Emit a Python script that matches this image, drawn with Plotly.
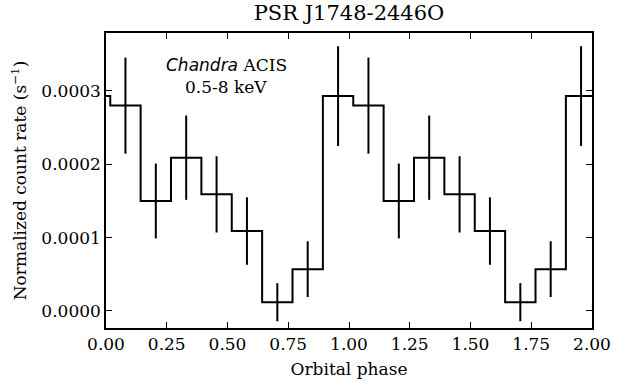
import plotly.graph_objects as go

# Bin centres (orbital phase), two cycles plus one bin on either side
phase = [-0.045, 0.080, 0.205, 0.330, 0.455, 0.580, 0.705, 0.830, 0.955,
         1.080, 1.205, 1.330, 1.455, 1.580, 1.705, 1.830, 1.955, 2.080]
# Normalized count rate (s^-1)
rate = [0.000293, 0.000280, 0.000150, 0.000209, 0.000159, 0.000109, 0.000012, 0.000057, 0.000293,
        0.000280, 0.000150, 0.000209, 0.000159, 0.000109, 0.000012, 0.000057, 0.000293, 0.000280]
# 1-sigma errors
rate_err = [0.000068, 0.0000655, 0.000051, 0.0000575, 0.000052, 0.000046, 0.000026, 0.000038, 0.000068,
            0.0000655, 0.000051, 0.0000575, 0.000052, 0.000046, 0.000026, 0.000038, 0.000068, 0.0000655]

x_ticks = [0.0, 0.25, 0.5, 0.75, 1.0, 1.25, 1.5, 1.75, 2.0]
y_ticks = [0.0, 0.0001, 0.0002, 0.0003]

SERIF = "DejaVu Serif"
FS = 17

fig = go.Figure()
fig.add_trace(go.Scatter(
    x=phase, y=rate, mode="lines", line=dict(shape="hvh", color="black", width=2),
    showlegend=False, hoverinfo="skip"))
fig.add_trace(go.Scatter(
    x=phase, y=rate, mode="markers", marker=dict(size=0.1, color="black", opacity=0),
    error_y=dict(type="data", array=rate_err, visible=True, color="black", thickness=2, width=0),
    showlegend=False))

axis_common = dict(showline=True, linecolor="black", linewidth=1.5, mirror="ticks",
                   ticks="inside", ticklen=6, tickwidth=1.3, tickcolor="black",
                   showgrid=False, zeroline=False, automargin=False,
                   tickfont=dict(family=SERIF, size=FS, color="black"))

fig.update_xaxes(range=[0, 2], tickvals=x_ticks, tickformat=".2f",
                 title=dict(text="Orbital phase", font=dict(family=SERIF, size=FS, color="black"), standoff=10),
                 **axis_common)
fig.update_yaxes(range=[-0.0000232, 0.000379], tickvals=y_ticks, tickformat=".4f",
                 title=dict(text="Normalized count rate (s<sup>\u22121</sup>)",
                            font=dict(family=SERIF, size=FS, color="black"), standoff=10),
                 **axis_common)

fig.add_annotation(x=0.495, y=0.000336, xref="x", yref="y", showarrow=False,
                   text='<span style="font-family:DejaVu Sans;font-style:italic">Chandra</span> ACIS',
                   font=dict(family=SERIF, size=FS, color="black"))
fig.add_annotation(x=0.495, y=0.000305, xref="x", yref="y", showarrow=False,
                   text="0.5-8 keV", font=dict(family=SERIF, size=FS, color="black"))

fig.update_layout(
    width=623, height=382,
    margin=dict(l=106, r=31, t=33, b=54),
    paper_bgcolor="white", plot_bgcolor="white",
    title=dict(text="PSR J1748-2446O", x=0.5, xanchor="center", xref="paper",
               y=1, yref="container", yanchor="top", pad=dict(t=5),
               font=dict(family=SERIF, size=21, color="black")),
)

fig.write_html("out.html")
